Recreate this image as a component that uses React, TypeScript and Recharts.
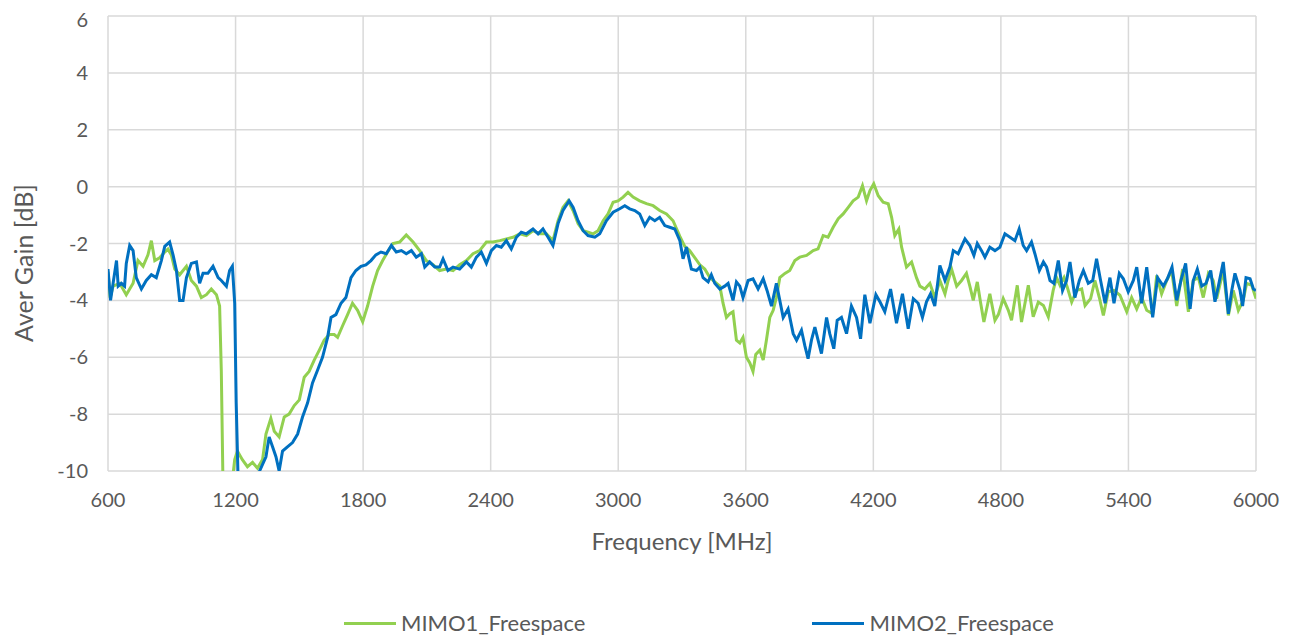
import { LineChart, Line, XAxis, YAxis, CartesianGrid, Legend } from 'recharts';

// MIMO1_Freespace (green)
const mimo1Freq = [
  600, 610, 624, 655, 686, 718, 741, 765, 788, 804, 820, 843, 867, 882, 898, 914, 937, 969, 992, 1016,
  1039, 1063, 1086, 1110, 1125, 1133, 1140, 1146, 1184, 1190, 1196, 1209, 1232, 1256, 1280, 1303, 1327, 1343, 1366, 1382,
  1405, 1429, 1452, 1476, 1500, 1523, 1546, 1570, 1594, 1617, 1641, 1664, 1680, 1703, 1727, 1750, 1774, 1798, 1821, 1845,
  1868, 1892, 1915, 1940, 1972, 2003, 2035, 2066, 2097, 2129, 2160, 2191, 2223, 2254, 2286, 2317, 2348, 2380, 2411, 2443,
  2474, 2505, 2537, 2568, 2599, 2631, 2662, 2693, 2717, 2740, 2764, 2788, 2811, 2835, 2858, 2882, 2905, 2929, 2952, 2976,
  2999, 3023, 3046, 3070, 3101, 3133, 3164, 3195, 3227, 3258, 3290, 3313, 3336, 3360, 3384, 3407, 3431, 3454, 3478, 3493,
  3509, 3525, 3540, 3556, 3572, 3587, 3603, 3619, 3634, 3647, 3666, 3682, 3697, 3713, 3729, 3744, 3760, 3784, 3807, 3831,
  3854, 3886, 3917, 3940, 3964, 3987, 4011, 4035, 4058, 4082, 4105, 4129, 4149, 4168, 4184, 4202, 4223, 4246, 4270, 4286,
  4301, 4320, 4333, 4356, 4380, 4403, 4419, 4442, 4466, 4489, 4513, 4537, 4552, 4568, 4592, 4615, 4638, 4654, 4670, 4689,
  4705, 4720, 4748, 4772, 4788, 4811, 4835, 4850, 4877, 4897, 4929, 4952, 4976, 5000, 5023, 5046, 5062, 5078, 5097, 5112,
  5133, 5156, 5180, 5196, 5222, 5242, 5263, 5282, 5305, 5332, 5360, 5392, 5415, 5439, 5462, 5486, 5514, 5533, 5556, 5580,
  5603, 5627, 5655, 5682, 5705, 5729, 5752, 5776, 5799, 5815, 5846, 5870, 5893, 5917, 5940, 5956, 5980, 6000,
];
const mimo1Gain = [
  -3.0, -3.9, -3.5, -3.4, -3.8, -3.4, -2.6, -2.8, -2.4, -1.9, -2.6, -2.5, -2.3, -2.2, -2.4, -2.9, -3.1, -2.8, -3.3, -3.5,
  -3.9, -3.8, -3.6, -3.8, -4.2, -6.5, -10, -14, -14, -10, -9.6, -9.3, -9.6, -9.85, -9.7, -9.9, -9.6, -8.7, -8.15, -8.6,
  -8.8, -8.1, -8.0, -7.7, -7.5, -6.7, -6.5, -6.1, -5.75, -5.4, -5.2, -5.2, -5.3, -4.9, -4.5, -4.1, -4.35, -4.75, -4.2, -3.5,
  -2.95, -2.6, -2.3, -2.0, -1.95, -1.7, -1.95, -2.25, -2.6, -2.75, -2.95, -2.9, -2.95, -2.75, -2.6, -2.36, -2.25, -1.95, -1.95, -1.9,
  -1.84, -1.78, -1.66, -1.72, -1.55, -1.66, -1.66, -1.9, -1.2, -0.73, -0.5, -0.85, -1.3, -1.55, -1.6, -1.66, -1.55, -1.2, -0.96, -0.55,
  -0.5, -0.37, -0.2, -0.37, -0.5, -0.6, -0.67, -0.84, -0.96, -1.2, -1.75, -2.1, -2.25, -2.5, -2.75, -2.9, -3.2, -3.35, -3.5, -4.1,
  -4.6, -4.47, -4.4, -5.4, -5.5, -5.3, -6.0, -6.2, -6.5, -5.9, -5.75, -6.1, -5.4, -4.6, -4.35, -3.9, -3.2, -3.05, -2.95, -2.6,
  -2.48, -2.42, -2.25, -2.19, -1.72, -1.78, -1.43, -1.13, -0.96, -0.73, -0.5, -0.37, 0.03, -0.5, -0.14, 0.1, -0.32, -0.55, -0.6, -1.08,
  -1.72, -1.49, -2.13, -2.83, -2.65, -3.2, -3.5, -3.6, -3.4, -3.9, -3.3, -3.77, -3.3, -2.9, -3.5, -3.3, -3.05, -3.5, -4.0, -3.35,
  -4.1, -4.76, -3.77, -4.7, -4.5, -3.94, -4.35, -4.7, -3.47, -4.76, -3.47, -4.58, -4.06, -4.18, -4.58, -3.65, -3.2, -3.47, -3.2, -3.53,
  -4.06, -3.65, -3.6, -4.18, -3.94, -3.3, -3.9, -4.53, -3.7, -3.65, -3.82, -4.4, -3.9, -4.3, -3.9, -4.35, -4.47, -3.12, -3.77, -3.3,
  -2.95, -4.2, -2.9, -4.4, -3.3, -3.2, -3.9, -3.05, -3.3, -3.94, -2.95, -4.53, -3.65, -4.35, -4.0, -3.4, -3.47, -3.94,
];

// MIMO2_Freespace (blue)
const mimo2Freq = [
  600, 612, 624, 640, 648, 663, 678, 686, 702, 718, 733, 757, 780, 804, 827, 851, 867, 890, 906, 922,
  937, 953, 969, 992, 1016, 1031, 1047, 1070, 1094, 1118, 1133, 1157, 1172, 1185, 1196, 1203, 1211, 1216, 1308, 1313,
  1343, 1358, 1374, 1390, 1405, 1421, 1444, 1468, 1492, 1515, 1539, 1562, 1586, 1609, 1633, 1649, 1672, 1696, 1719, 1743,
  1766, 1790, 1813, 1837, 1860, 1884, 1909, 1933, 1956, 1980, 2003, 2027, 2050, 2074, 2090, 2113, 2137, 2160, 2176, 2199,
  2223, 2254, 2286, 2309, 2333, 2356, 2380, 2403, 2427, 2450, 2474, 2497, 2521, 2544, 2568, 2599, 2623, 2646, 2670, 2693,
  2717, 2740, 2769, 2788, 2811, 2835, 2858, 2890, 2913, 2944, 2976, 3007, 3031, 3054, 3078, 3101, 3125, 3148, 3172, 3195,
  3219, 3242, 3266, 3290, 3305, 3321, 3344, 3368, 3384, 3399, 3423, 3438, 3454, 3478, 3501, 3517, 3540, 3556, 3572, 3587,
  3611, 3634, 3658, 3682, 3700, 3721, 3744, 3760, 3776, 3799, 3823, 3839, 3862, 3878, 3893, 3909, 3925, 3940, 3956, 3980,
  3995, 4014, 4030, 4050, 4074, 4097, 4121, 4140, 4160, 4184, 4212, 4231, 4254, 4281, 4309, 4337, 4364, 4388, 4411, 4431,
  4450, 4469, 4489, 4513, 4537, 4560, 4576, 4599, 4631, 4654, 4673, 4689, 4709, 4725, 4748, 4772, 4795, 4819, 4843, 4866,
  4886, 4905, 4921, 4944, 4960, 4981, 5000, 5015, 5031, 5050, 5070, 5090, 5109, 5125, 5148, 5169, 5188, 5211, 5232, 5250,
  5269, 5290, 5313, 5332, 5357, 5376, 5399, 5423, 5439, 5462, 5486, 5514, 5537, 5564, 5583, 5605, 5627, 5647, 5669, 5690,
  5705, 5724, 5745, 5765, 5787, 5807, 5823, 5846, 5870, 5886, 5901, 5925, 5937, 5953, 5972, 5988, 6000,
];
const mimo2Gain = [
  -2.9, -4.0, -3.4, -2.6, -3.5, -3.4, -3.5, -2.7, -2.07, -2.25, -3.2, -3.6, -3.3, -3.1, -3.2, -2.6, -2.1, -1.95, -2.4, -2.95,
  -4.0, -4.0, -3.2, -2.7, -2.65, -3.4, -3.05, -3.05, -2.8, -3.2, -3.3, -3.5, -2.95, -2.8, -4.1, -7.6, -10, -14, -14, -10,
  -9.5, -8.8, -9.15, -9.5, -10, -9.3, -9.15, -9.0, -8.7, -8.1, -7.6, -6.9, -6.45, -6.0, -5.3, -4.6, -4.5, -4.1, -3.9, -3.2,
  -2.95, -2.8, -2.75, -2.6, -2.4, -2.3, -2.36, -2.07, -2.3, -2.25, -2.36, -2.25, -2.48, -2.36, -2.83, -2.65, -2.83, -2.83, -2.54, -2.95,
  -2.83, -2.9, -2.65, -2.83, -2.48, -2.3, -2.7, -2.25, -2.07, -2.13, -1.9, -2.19, -1.78, -1.6, -1.66, -1.49, -1.66, -1.49, -1.78, -2.07,
  -1.3, -0.84, -0.5, -0.73, -1.2, -1.55, -1.72, -1.78, -1.66, -1.2, -0.9, -0.78, -0.67, -0.78, -0.84, -0.96, -1.37, -1.08, -1.2, -1.08,
  -1.37, -1.43, -1.49, -1.9, -2.54, -2.13, -2.9, -2.95, -2.83, -3.2, -3.35, -3.1, -3.4, -3.6, -3.5, -3.4, -4.0, -3.35, -3.5, -3.9,
  -3.3, -3.24, -3.6, -3.24, -3.65, -4.2, -3.4, -4.0, -4.6, -4.3, -5.17, -5.4, -5.05, -5.6, -6.05, -5.4, -4.94, -5.4, -5.87, -4.6,
  -5.17, -5.7, -4.7, -4.6, -5.17, -4.2, -4.6, -5.35, -3.8, -4.8, -3.8, -4.05, -4.4, -3.6, -4.8, -3.77, -5.0, -3.94, -4.1, -4.6,
  -4.05, -3.77, -4.2, -2.77, -3.3, -2.83, -2.25, -2.36, -1.84, -2.07, -2.42, -2.0, -2.25, -2.48, -2.13, -2.25, -2.13, -1.66, -1.78, -1.9,
  -1.49, -2.07, -2.25, -1.95, -2.36, -2.95, -2.65, -2.83, -3.3, -3.4, -2.6, -3.65, -3.3, -2.65, -3.9, -3.3, -2.95, -3.4, -3.3, -2.54,
  -3.3, -4.1, -3.2, -4.1, -3.05, -3.24, -3.7, -3.3, -2.83, -4.1, -2.83, -4.6, -3.2, -3.5, -3.24, -2.83, -4.0, -3.3, -2.7, -4.3,
  -3.3, -2.9, -3.5, -3.4, -2.95, -4.05, -3.5, -2.65, -4.47, -3.65, -3.05, -3.65, -4.2, -3.2, -3.24, -3.6, -3.65,
];

const xTicks = [600, 1200, 1800, 2400, 3000, 3600, 4200, 4800, 5400, 6000];
const yTicks = [-10, -8, -6, -4, -2, 0, 2, 4, 6];

const seriesNames = ['MIMO1_Freespace', 'MIMO2_Freespace'];
const seriesColors = ['#92D050', '#0070C0'];

const mimo1Data = mimo1Freq.map((f, i) => ({ f, g: mimo1Gain[i] }));
const mimo2Data = mimo2Freq.map((f, i) => ({ f, g: mimo2Gain[i] }));

const FONT = 'Lato, "Noto Sans", sans-serif';
const TEXT = '#595959';

function LegendBox() {
  return (
    <div style={{ display: 'flex', fontFamily: FONT, fontSize: 22, color: TEXT, gap: 227, lineHeight: '26px' }}>
      {seriesNames.map((name, i) => (
        <div key={name} style={{ display: 'flex', alignItems: 'center' }}>
          <span style={{ display: 'inline-block', width: 52, height: 3, background: seriesColors[i], marginRight: 5 }} />
          <span>{name}</span>
        </div>
      ))}
    </div>
  );
}

// rotated y-axis title, centred where the reference puts it
function YTitle() {
  return (
    <text
      x={15}
      y={255}
      transform="rotate(-90 15 255)"
      textAnchor="middle"
      dominantBaseline="central"
      fill={TEXT}
      fontSize={25}
      fontFamily={FONT}
    >
      Aver Gain [dB]
    </text>
  );
}

export default function App() {
  return (
    <div style={{ width: 1278, height: 631 }}>
      <LineChart width={1278} height={631} margin={{ top: 8, right: 30, bottom: 108, left: 0 }}>
        <CartesianGrid stroke="#d9d9d9" strokeWidth={1.5} />
        <XAxis
          dataKey="f"
          type="number"
          domain={[600, 6000]}
          ticks={xTicks}
          allowDataOverflow
          axisLine={false}
          tickLine={false}
          tickMargin={16}
          height={60}
          tick={{ fill: TEXT, fontSize: 20, fontFamily: FONT }}
          label={{ value: 'Frequency [MHz]', position: 'insideTop', offset: 62, fill: TEXT, fontSize: 24, fontFamily: FONT }}
        />
        <YAxis
          type="number"
          domain={[-10, 6]}
          ticks={yTicks}
          allowDataOverflow
          axisLine={false}
          tickLine={false}
          tickMargin={14}
          width={100}
          tick={{ fill: TEXT, fontSize: 20, fontFamily: FONT }}
          label={{ content: () => <YTitle /> }}
        />
        <Legend
          layout="horizontal"
          align="center"
          verticalAlign="middle"
          wrapperStyle={{ left: 336, top: 602, width: 800 }}
          content={() => <LegendBox />}
        />
        <Line
          data={mimo1Data}
          dataKey="g"
          name={seriesNames[0]}
          type="linear"
          stroke={seriesColors[0]}
          strokeWidth={3}
          dot={false}
          isAnimationActive={false}
        />
        <Line
          data={mimo2Data}
          dataKey="g"
          name={seriesNames[1]}
          type="linear"
          stroke={seriesColors[1]}
          strokeWidth={3}
          dot={false}
          isAnimationActive={false}
        />
      </LineChart>
    </div>
  );
}
